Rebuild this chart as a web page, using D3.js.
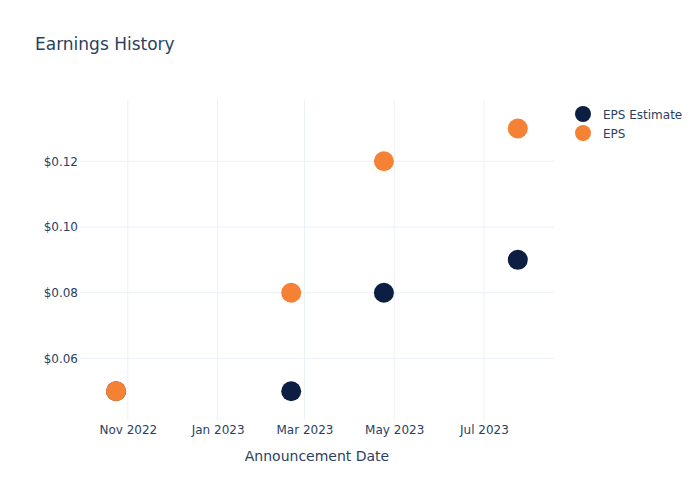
<!DOCTYPE html>
<html><head><meta charset="utf-8">
<script src="https://cdn.jsdelivr.net/npm/d3@7/dist/d3.min.js"></script>
<style>body{margin:0;background:#fff}svg{display:block;font-family:"DejaVu Sans",Verdana,sans-serif}</style>
</head><body><svg id="c" width="700" height="500"></svg>
<script>
const dates = ["2022-10-24", "2023-02-20", "2023-04-24", "2023-07-24"];
const epsEstimate = [0.05, 0.05, 0.08, 0.09];
const eps = [0.05, 0.08, 0.12, 0.13];
const seriesNames = ["EPS Estimate", "EPS"];
const seriesColors = ["#0c1f42", "#f58134"];
const yTicks = [0.06, 0.08, 0.10, 0.12];
const xTickDates = ["2022-11-01", "2023-01-01", "2023-03-01", "2023-05-01", "2023-07-01"];

const parse = d3.utcParse("%Y-%m-%d");
const svg = d3.select("#c");
const L = 80, R = 554, T = 100, B = 420;
const textColor = "#2a3f5f", gridColor = "#ebf0f8";
const FONT = '"DejaVu Sans",Verdana,sans-serif';

const x = d3.scaleUtc().domain([new Date(Date.UTC(2022, 8, 29, 12)), new Date(Date.UTC(2023, 7, 17, 14))]).range([L, R]);
const y = d3.scaleLinear().domain([0.04125, 0.13866]).range([B, T]);

// grid
const xt = xTickDates.map(parse);
svg.append("g").selectAll("line").data(xt).join("line")
  .attr("x1", d => x(d)).attr("x2", d => x(d)).attr("y1", T).attr("y2", B)
  .attr("stroke", gridColor).attr("stroke-width", 1);
svg.append("g").selectAll("line").data(yTicks).join("line")
  .attr("x1", L).attr("x2", R).attr("y1", d => y(d)).attr("y2", d => y(d))
  .attr("stroke", gridColor).attr("stroke-width", 1);

// axes
const xAxis = d3.axisBottom(x).tickValues(xt).tickSize(0).tickPadding(5)
  .tickFormat(d3.utcFormat("%b %Y"));
const gx = svg.append("g").attr("transform", `translate(0,${B})`).call(xAxis)
  .attr("font-family", FONT).attr("font-size", 12);
gx.select(".domain").remove();
gx.selectAll("text").attr("fill", textColor);

const yAxis = d3.axisLeft(y).tickValues(yTicks).tickSize(0).tickPadding(2)
  .tickFormat(d => "$" + d3.format(".2f")(d));
const gy = svg.append("g").attr("transform", `translate(${L},0)`).call(yAxis)
  .attr("font-family", FONT).attr("font-size", 12);
gy.select(".domain").remove();
gy.selectAll("text").attr("fill", textColor);

// points
const series = [epsEstimate, eps];
series.forEach((vals, i) => {
  svg.append("g").selectAll("circle").data(vals).join("circle")
    .attr("cx", (d, j) => x(parse(dates[j]))).attr("cy", d => y(d)).attr("r", 10)
    .attr("fill", seriesColors[i]);
});

// title
svg.append("text").attr("x", 35).attr("y", 50).attr("font-size", 17).attr("fill", textColor).text("Earnings History");
svg.append("text").attr("x", (L + R) / 2).attr("y", 461).attr("text-anchor", "middle")
  .attr("font-size", 14).attr("fill", textColor).text("Announcement Date");

// legend
const lg = svg.append("g");
seriesNames.forEach((n, i) => {
  lg.append("circle").attr("cx", 583).attr("cy", 114 + i * 19).attr("r", 8).attr("fill", seriesColors[i]);
  lg.append("text").attr("x", 603).attr("y", 118.5 + i * 19).attr("font-size", 12).attr("fill", textColor).text(n);
});
</script></body></html>
